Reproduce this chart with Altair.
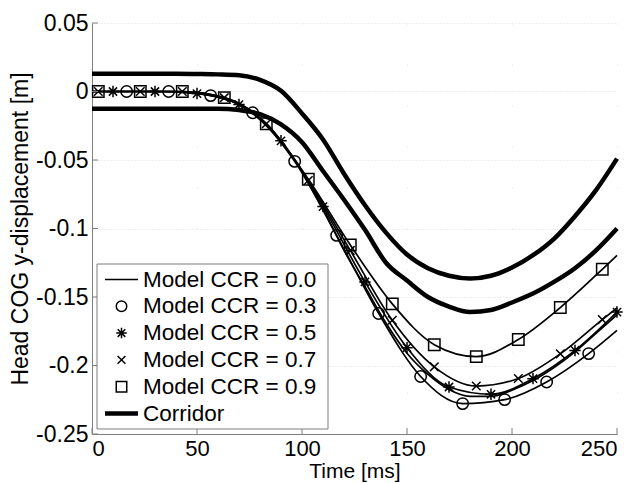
import altair as alt
import pandas as pd

# ---------------- data ----------------
x_ticks = [0, 50, 100, 150, 200, 250]
y_ticks = [-0.25, -0.2, -0.15, -0.1, -0.05, 0, 0.05]

# corridor and CCR = 0.0 curve, sampled every 10 ms
t_grid = [0, 10, 20, 30, 40, 50, 60, 70, 80, 90, 100, 110, 120, 130, 140,
          150, 160, 170, 180, 190, 200, 210, 220, 230, 240, 250]
corr_upper = [0.013, 0.013, 0.013, 0.013, 0.013, 0.0128, 0.0125, 0.0118, 0.0085,
              0.0005, -0.016, -0.035, -0.060, -0.083, -0.103, -0.119, -0.129,
              -0.1345, -0.1365, -0.1345, -0.1285, -0.1195, -0.1075, -0.091,
              -0.072, -0.049]
corr_lower = [-0.0125, -0.0125, -0.0125, -0.0125, -0.0125, -0.0125, -0.0125,
              -0.0135, -0.0165, -0.024, -0.037, -0.058, -0.079, -0.101, -0.125,
              -0.138, -0.150, -0.157, -0.161, -0.1595, -0.154, -0.1475, -0.139,
              -0.129, -0.116, -0.100]
ccr00 = [0.0, 0.0, 0.0, 0.0, 0.0, -0.0015, -0.004, -0.0095, -0.0205, -0.0365,
         -0.058, -0.0855, -0.116, -0.1425, -0.169, -0.191, -0.2065, -0.2175,
         -0.2225, -0.2225, -0.218, -0.211, -0.2015, -0.190, -0.1765, -0.163]

# marker times / values of the other model curves
t_sq = [3, 23, 43, 63, 83, 103, 123, 143, 163, 183, 203, 223, 243]
ccr09 = [0.0, 0.0, 0.0, -0.0045, -0.0235, -0.064, -0.112, -0.155, -0.1848,
         -0.1935, -0.181, -0.1577, -0.1298]
ccr07 = [0.0, 0.0, 0.0, -0.0045, -0.0235, -0.065, -0.116, -0.167, -0.201,
         -0.215, -0.2095, -0.1915, -0.1665]
t_st = [10, 30, 50, 70, 90, 110, 130, 150, 170, 190, 210, 230, 250]
ccr05 = [0.0, 0.0, -0.0015, -0.0095, -0.036, -0.084, -0.139, -0.187, -0.2157,
         -0.221, -0.2096, -0.189, -0.161]
t_ci = [16.5, 36.5, 56.5, 76.5, 96.5, 116.5, 136.5, 156.5, 176.5, 196.5, 216.5,
        236.5]
ccr03 = [0.0, 0.0, -0.003, -0.0155, -0.051, -0.105, -0.162, -0.208, -0.2278,
         -0.2249, -0.212, -0.1913]

# curve start (t = 0) and end (t = 250) values of the marked curves
start_vals = {"Model CCR = 0.3": 0.0, "Model CCR = 0.5": 0.0,
              "Model CCR = 0.7": 0.0, "Model CCR = 0.9": 0.0}
end_vals = {"Model CCR = 0.3": -0.1743, "Model CCR = 0.7": -0.158,
            "Model CCR = 0.9": -0.1196}

legend_labels = ["Model CCR = 0.0", "Model CCR = 0.3", "Model CCR = 0.5",
                 "Model CCR = 0.7", "Model CCR = 0.9", "Corridor"]

# ---------------- tables ----------------
marked = [("Model CCR = 0.3", t_ci, ccr03), ("Model CCR = 0.5", t_st, ccr05),
          ("Model CCR = 0.7", t_sq, ccr07), ("Model CCR = 0.9", t_sq, ccr09)]

mk_rows, ln_rows = [], []
for name, ts, ys in marked:
    ln_rows.append({"series": name, "t": 0, "y": start_vals[name]})
    for t, y in zip(ts, ys):
        mk_rows.append({"series": name, "t": t, "y": y})
        ln_rows.append({"series": name, "t": t, "y": y})
    if name in end_vals:
        ln_rows.append({"series": name, "t": 250, "y": end_vals[name]})
for t, y in zip(t_grid, ccr00):
    ln_rows.append({"series": "Model CCR = 0.0", "t": t, "y": y})
markers_df = pd.DataFrame(mk_rows)
models_df = pd.DataFrame(ln_rows)

corr_rows = []
for t, y in zip(t_grid, corr_upper):
    corr_rows.append({"series": "upper", "t": t, "y": y})
for t, y in zip(t_grid, corr_lower):
    corr_rows.append({"series": "lower", "t": t, "y": y})
corr_df = pd.DataFrame(corr_rows)

legend_df = pd.DataFrame({"label": legend_labels, "row": list(range(len(legend_labels)))})

FONT = "Liberation Sans"
GRAY = "#7f7f7f"
W, H = 525, 411

marker_names = ["Model CCR = 0.3", "Model CCR = 0.5", "Model CCR = 0.7", "Model CCR = 0.9"]
asterisk = "M-1,0L1,0M0,-1L0,1M-0.72,-0.72L0.72,0.72M-0.72,0.72L0.72,-0.72"
xcross = "M-0.75,-0.75L0.75,0.75M-0.75,0.75L0.75,-0.75"
shape_scale = alt.Scale(domain=marker_names, range=["circle", asterisk, xcross, "square"])

xs = alt.Scale(domain=[0, 250], nice=False, zero=False)
ys = alt.Scale(domain=[-0.25, 0.05], nice=False, zero=False)

x_axis = alt.Axis(values=x_ticks, title="Time [ms]", ticks=False, tickSize=0,
                  labelPadding=4, labelFontSize=22, titleFontSize=21,
                  grid=True, gridColor="#e2e2e2", gridDash=[1, 40],
                  titleX=W / 2, titleY=43, titleBaseline="alphabetic", titleAlign="center")
y_axis = alt.Axis(values=y_ticks, title="Head COG y-displacement [m]", ticks=False,
                  tickSize=0, labelPadding=4, grid=True, gridColor="#dedede",
                  gridDash=[1, 2], labelExpr="toString(datum.value)",
                  titleAngle=-90, titleX=-65, titleY=H / 2, titleBaseline="alphabetic",
                  titleAlign="center")

corridor = alt.Chart(corr_df).mark_line(color="black", strokeWidth=4.5,
                                        interpolate="monotone").encode(
    x=alt.X("t:Q", scale=xs, axis=x_axis),
    y=alt.Y("y:Q", scale=ys, axis=y_axis),
    detail="series:N",
)

model_lines = alt.Chart(models_df).mark_line(color="black", strokeWidth=1.7,
                                             interpolate="monotone").encode(
    x=alt.X("t:Q", scale=xs),
    y=alt.Y("y:Q", scale=ys),
    detail="series:N",
)

marks = alt.Chart(markers_df).mark_point(filled=False, color="black", strokeWidth=1.5,
                                         size=130, opacity=1).encode(
    x=alt.X("t:Q", scale=xs),
    y=alt.Y("y:Q", scale=ys),
    shape=alt.Shape("series:N", scale=shape_scale, legend=None),
)

xt_df = pd.DataFrame({"t": x_ticks})
yt_df = pd.DataFrame({"v": y_ticks})
x_tick_marks = alt.Chart(xt_df).mark_rule(color=GRAY, strokeWidth=1).encode(
    x=alt.X("t:Q", scale=xs), y=alt.value(H - 6), y2=alt.value(H))
y_tick_marks = alt.Chart(yt_df).mark_rule(color=GRAY, strokeWidth=1).encode(
    y=alt.Y("v:Q", scale=ys), x=alt.value(0), x2=alt.value(6))

# ---------------- legend ----------------
ROW0, DROW = 256.5, 26.8
box = alt.Chart(pd.DataFrame({"a": [0]})).mark_rect(
    fill="white", stroke=GRAY, strokeWidth=1).encode(
    x=alt.value(5), x2=alt.value(236), y=alt.value(241), y2=alt.value(406))

leg_base = alt.Chart(legend_df).transform_calculate(
    py=f"{ROW0} + {DROW} * datum.row")

leg_text = leg_base.mark_text(align="left", baseline="middle", font=FONT,
                              fontSize=22.5, color="black").encode(
    x=alt.value(51), y=alt.Y("py:Q", scale=None, axis=None), text="label:N")

leg_thin = leg_base.transform_filter("datum.row == 0").mark_rule(
    color="black", strokeWidth=1.7).encode(
    x=alt.value(13), x2=alt.value(46), y=alt.Y("py:Q", scale=None, axis=None))
leg_thick = leg_base.transform_filter("datum.row == 5").mark_rule(
    color="black", strokeWidth=4.5).encode(
    x=alt.value(13), x2=alt.value(46), y=alt.Y("py:Q", scale=None, axis=None))
leg_pts = leg_base.transform_filter("datum.row >= 1 && datum.row <= 4").mark_point(
    filled=False, color="black", strokeWidth=1.5, size=110, opacity=1).encode(
    x=alt.value(29.5), y=alt.Y("py:Q", scale=None, axis=None),
    shape=alt.Shape("label:N", scale=shape_scale, legend=None))

chart = alt.layer(
    corridor, model_lines, marks, x_tick_marks, y_tick_marks,
    box, leg_thin, leg_thick, leg_pts, leg_text,
).properties(
    width=W, height=H,
    autosize=alt.AutoSizeParams(type="none"),
    padding={"left": 84, "top": 15, "right": 15, "bottom": 49},
).configure(font=FONT).configure_view(stroke=None).configure_axis(
    labelFont=FONT, titleFont=FONT, labelFontSize=23, titleFontSize=23,
    titleFontWeight="normal", labelColor="black", titleColor="black",
    domainColor=GRAY, domainWidth=1,
)

chart.save("out.html", embed_options={"renderer": "svg", "actions": False})
